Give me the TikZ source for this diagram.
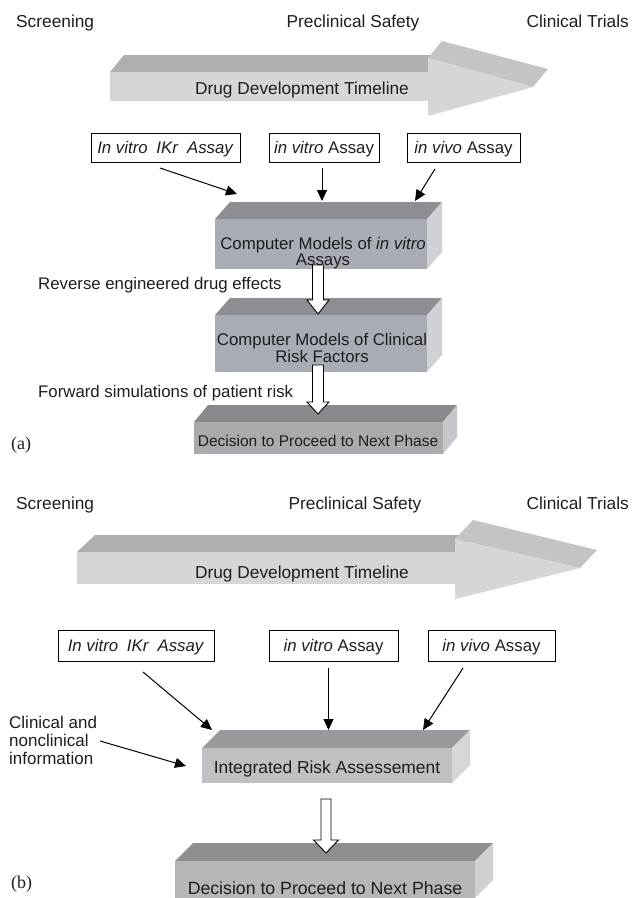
\documentclass[tikz,border=0pt]{standalone}
\usepackage{fontspec}
\setmainfont{Liberation Sans}
\newfontfamily\serifa{Liberation Serif}
\usetikzlibrary{arrows.meta,calc}
\definecolor{txt}{HTML}{1E1E1E}
\definecolor{arrfront}{HTML}{D6D6D6}
\definecolor{shafttop}{HTML}{AFAFAF}
\definecolor{headtop}{HTML}{C4C4C4}
\definecolor{cmfront}{HTML}{A8ADB5}
\definecolor{cmtop}{HTML}{8D8E92}
\definecolor{cmside}{HTML}{D0D1D4}
\definecolor{dafront}{HTML}{A9AAAD}
\definecolor{datop}{HTML}{88898C}
\definecolor{daside}{HTML}{C6C7CA}
\definecolor{irfront}{HTML}{BFC0C3}
\definecolor{irtop}{HTML}{999A9D}
\definecolor{irside}{HTML}{D6D7D9}
\definecolor{dbfront}{HTML}{B5B6B9}
\definecolor{dbtop}{HTML}{8E8F92}
\definecolor{dbside}{HTML}{CFD0D2}
\newcommand\fs[2]{\fontsize{#1}{#2}\selectfont}
% front rectangle (x1,y1)-(x2,y2), depth dx,dy, colours front/top/side
\newcommand\mycube[9]{%
  \fill[#8] (#1,#2) -- (#1+#5,#2-#6) -- (#3+#5,#2-#6) -- (#3,#2) -- cycle;
  \fill[#9] (#3,#2) -- (#3+#5,#2-#6) -- (#3+#5,#4-#6) -- (#3,#4) -- cycle;
  \fill[#7] (#1,#2) rectangle (#3,#4);}
% hollow down arrow: start, tip, head length, shaft half width, head half width
\newcommand\hollowdown[5]{%
  \draw[hollowarr] ($(#1)+(-#4,0)$) -- ($(#1)+(#4,0)$) -- ($(#2)+(#4,-#3)$) -- ($(#2)+(#5,-#3)$) -- (#2)
     -- ($(#2)+(-#5,-#3)$) -- ($(#2)+(-#4,-#3)$) -- cycle;}
\begin{document}
\begin{tikzpicture}[x=1pt,y=-1pt,
  lbl/.style={inner sep=0pt,text=txt,font=\fs{16.8}{19}},
  toplbl/.style={inner sep=0pt,text=txt,font=\fs{17.3}{20}},
  inbox/.style={draw=black,line width=0.9pt,inner sep=0pt,text=txt,font=\fs{16.8}{19},
     text height=12pt,text depth=0pt,minimum height=29pt},
  arr/.style={draw=black,line width=1pt,-{Triangle[length=11pt,width=10pt]}},
  hollowarr/.style={draw=black,line width=0.9pt,fill=white,line join=miter}]
\useasboundingbox (0,0) rectangle (635,898);
\fill[white] (0,0) rectangle (635,898);

%%%%%%%%%%%%%%%% panel (a)
\node[toplbl,anchor=base west] (scrA) at (16,27) {Screening};
\node[toplbl,anchor=base] (preA) at (353,27) {Preclinical Safety};
\node[toplbl,anchor=base east] (cliA) at (629,27) {Clinical Trials};

\fill[shafttop] (110,72) -- (124,55) -- (442,55) -- (428,72) -- cycle;
\fill[headtop] (428,58) -- (442,41) -- (548,69) -- (533,87) -- cycle;
\fill[arrfront] (110,72) rectangle (428,101);
\fill[arrfront] (428,58) -- (533,87) -- (428,116) -- cycle;
\node[toplbl,anchor=base] (tlA) at (302,94) {Drug Development Timeline};

\node[inbox,minimum width=149pt] (ia1) at (165.5,147.5) {\textit{In vitro}\hspace{4pt} \textit{IKr}\hspace{4pt} \textit{Assay}};
\node[inbox,minimum width=110pt] (ia2) at (324,147.5) {\textit{in vitro} Assay};
\node[inbox,minimum width=113pt] (ia3) at (463.5,147.5) {\textit{in vivo} Assay};

\mycube{215}{219}{427}{269}{15}{17}{cmfront}{cmtop}{cmside}
\node[lbl,align=center,font=\fs{16.8}{15.5}] (cmA) at (323,253) {Computer Models of \textit{in vitro}\\Assays};

\coordinate (a1s) at (160,168); \coordinate (a1e) at (237,194);
\coordinate (a2s) at (322,168); \coordinate (a2e) at (322,201);
\coordinate (a3s) at (435,169); \coordinate (a3e) at (415,201);
\draw[arr] (a1s) -- (a1e);
\draw[arr] (a2s) -- (a2e);
\draw[arr] (a3s) -- (a3e);

\mycube{215}{315}{427}{372}{15}{17}{cmfront}{cmtop}{cmside}
\node[lbl,align=center,font=\fs{16.8}{17}] (crA) at (322,348) {Computer Models of Clinical\\Risk Factors};

\mycube{194}{422}{443}{454}{14}{17}{dafront}{datop}{daside}
\node[lbl,anchor=base,font=\fs{15.5}{18}] (dpA) at (318,446.5) {Decision to Proceed to Next Phase};

\coordinate (h1s) at (318,265); \coordinate (h1e) at (318,314);
\hollowdown{h1s}{h1e}{14}{5.5}{11}
\coordinate (h2s) at (318,365); \coordinate (h2e) at (318,414);
\hollowdown{h2s}{h2e}{12}{5.5}{11}

\node[lbl,anchor=base west] (revA) at (38,289) {Reverse engineered drug effects};
\node[lbl,anchor=base west] (fwdA) at (38,397) {Forward simulations of patient risk};
\node[inner sep=0pt,anchor=base west,text=txt,font=\serifa\fs{18}{20}] (labA) at (11,449) {(a)};

%%%%%%%%%%%%%%%% panel (b)
\node[toplbl,anchor=base west] (scrB) at (16,509) {Screening};
\node[toplbl,anchor=base] (preB) at (355,509) {Preclinical Safety};
\node[toplbl,anchor=base east] (cliB) at (629,509) {Clinical Trials};

\fill[shafttop] (77,552) -- (95,535) -- (473,535) -- (455,552) -- cycle;
\fill[headtop] (455,539) -- (473,520) -- (597,550) -- (580,568) -- cycle;
\fill[arrfront] (77,552) rectangle (455,584);
\fill[arrfront] (455,539) -- (580,568) -- (455,599) -- cycle;
\node[toplbl,anchor=base] (tlB) at (302,578) {Drug Development Timeline};

\node[inbox,minimum width=156pt,minimum height=31pt] (ib1) at (136,645.5) {\textit{In vitro}\hspace{4pt} \textit{IKr}\hspace{4pt} \textit{Assay}};
\node[inbox,minimum width=129pt,minimum height=31pt] (ib2) at (333.5,645.5) {\textit{in vitro} Assay};
\node[inbox,minimum width=127pt,minimum height=31pt] (ib3) at (491.5,645.5) {\textit{in vivo} Assay};

\mycube{202}{748}{452}{783}{18}{18}{irfront}{irtop}{irside}
\node[lbl,anchor=base,font=\fs{17.4}{20}] (irB) at (327,773) {Integrated Risk Assessement};

\coordinate (b1s) at (143,672); \coordinate (b1e) at (212,730);
\coordinate (b2s) at (328.5,668); \coordinate (b2e) at (328.5,730);
\coordinate (b3s) at (463,668); \coordinate (b3e) at (423,730);
\draw[arr] (b1s) -- (b1e);
\draw[arr] (b2s) -- (b2e);
\draw[arr] (b3s) -- (b3e);

\node[lbl,align=left,anchor=north west,font=\fs{17}{18}] (infoB) at (9,716) {Clinical and\\nonclinical\\information};
\coordinate (b4s) at (100,741); \coordinate (b4e) at (186,766);
\draw[arr] (b4s) -- (b4e);

\mycube{175}{861}{475}{898}{18}{18}{dbfront}{dbtop}{dbside}
\node[lbl,anchor=base,font=\fs{17.7}{20}] (dpB) at (325,894) {Decision to Proceed to Next Phase};

\coordinate (h3s) at (326,799); \coordinate (h3e) at (326,853);
\hollowdown{h3s}{h3e}{13}{5}{12.5}

\node[inner sep=0pt,anchor=base west,text=txt,font=\serifa\fs{18}{20}] (labB) at (11,888) {(b)};
\end{tikzpicture}
\end{document}
